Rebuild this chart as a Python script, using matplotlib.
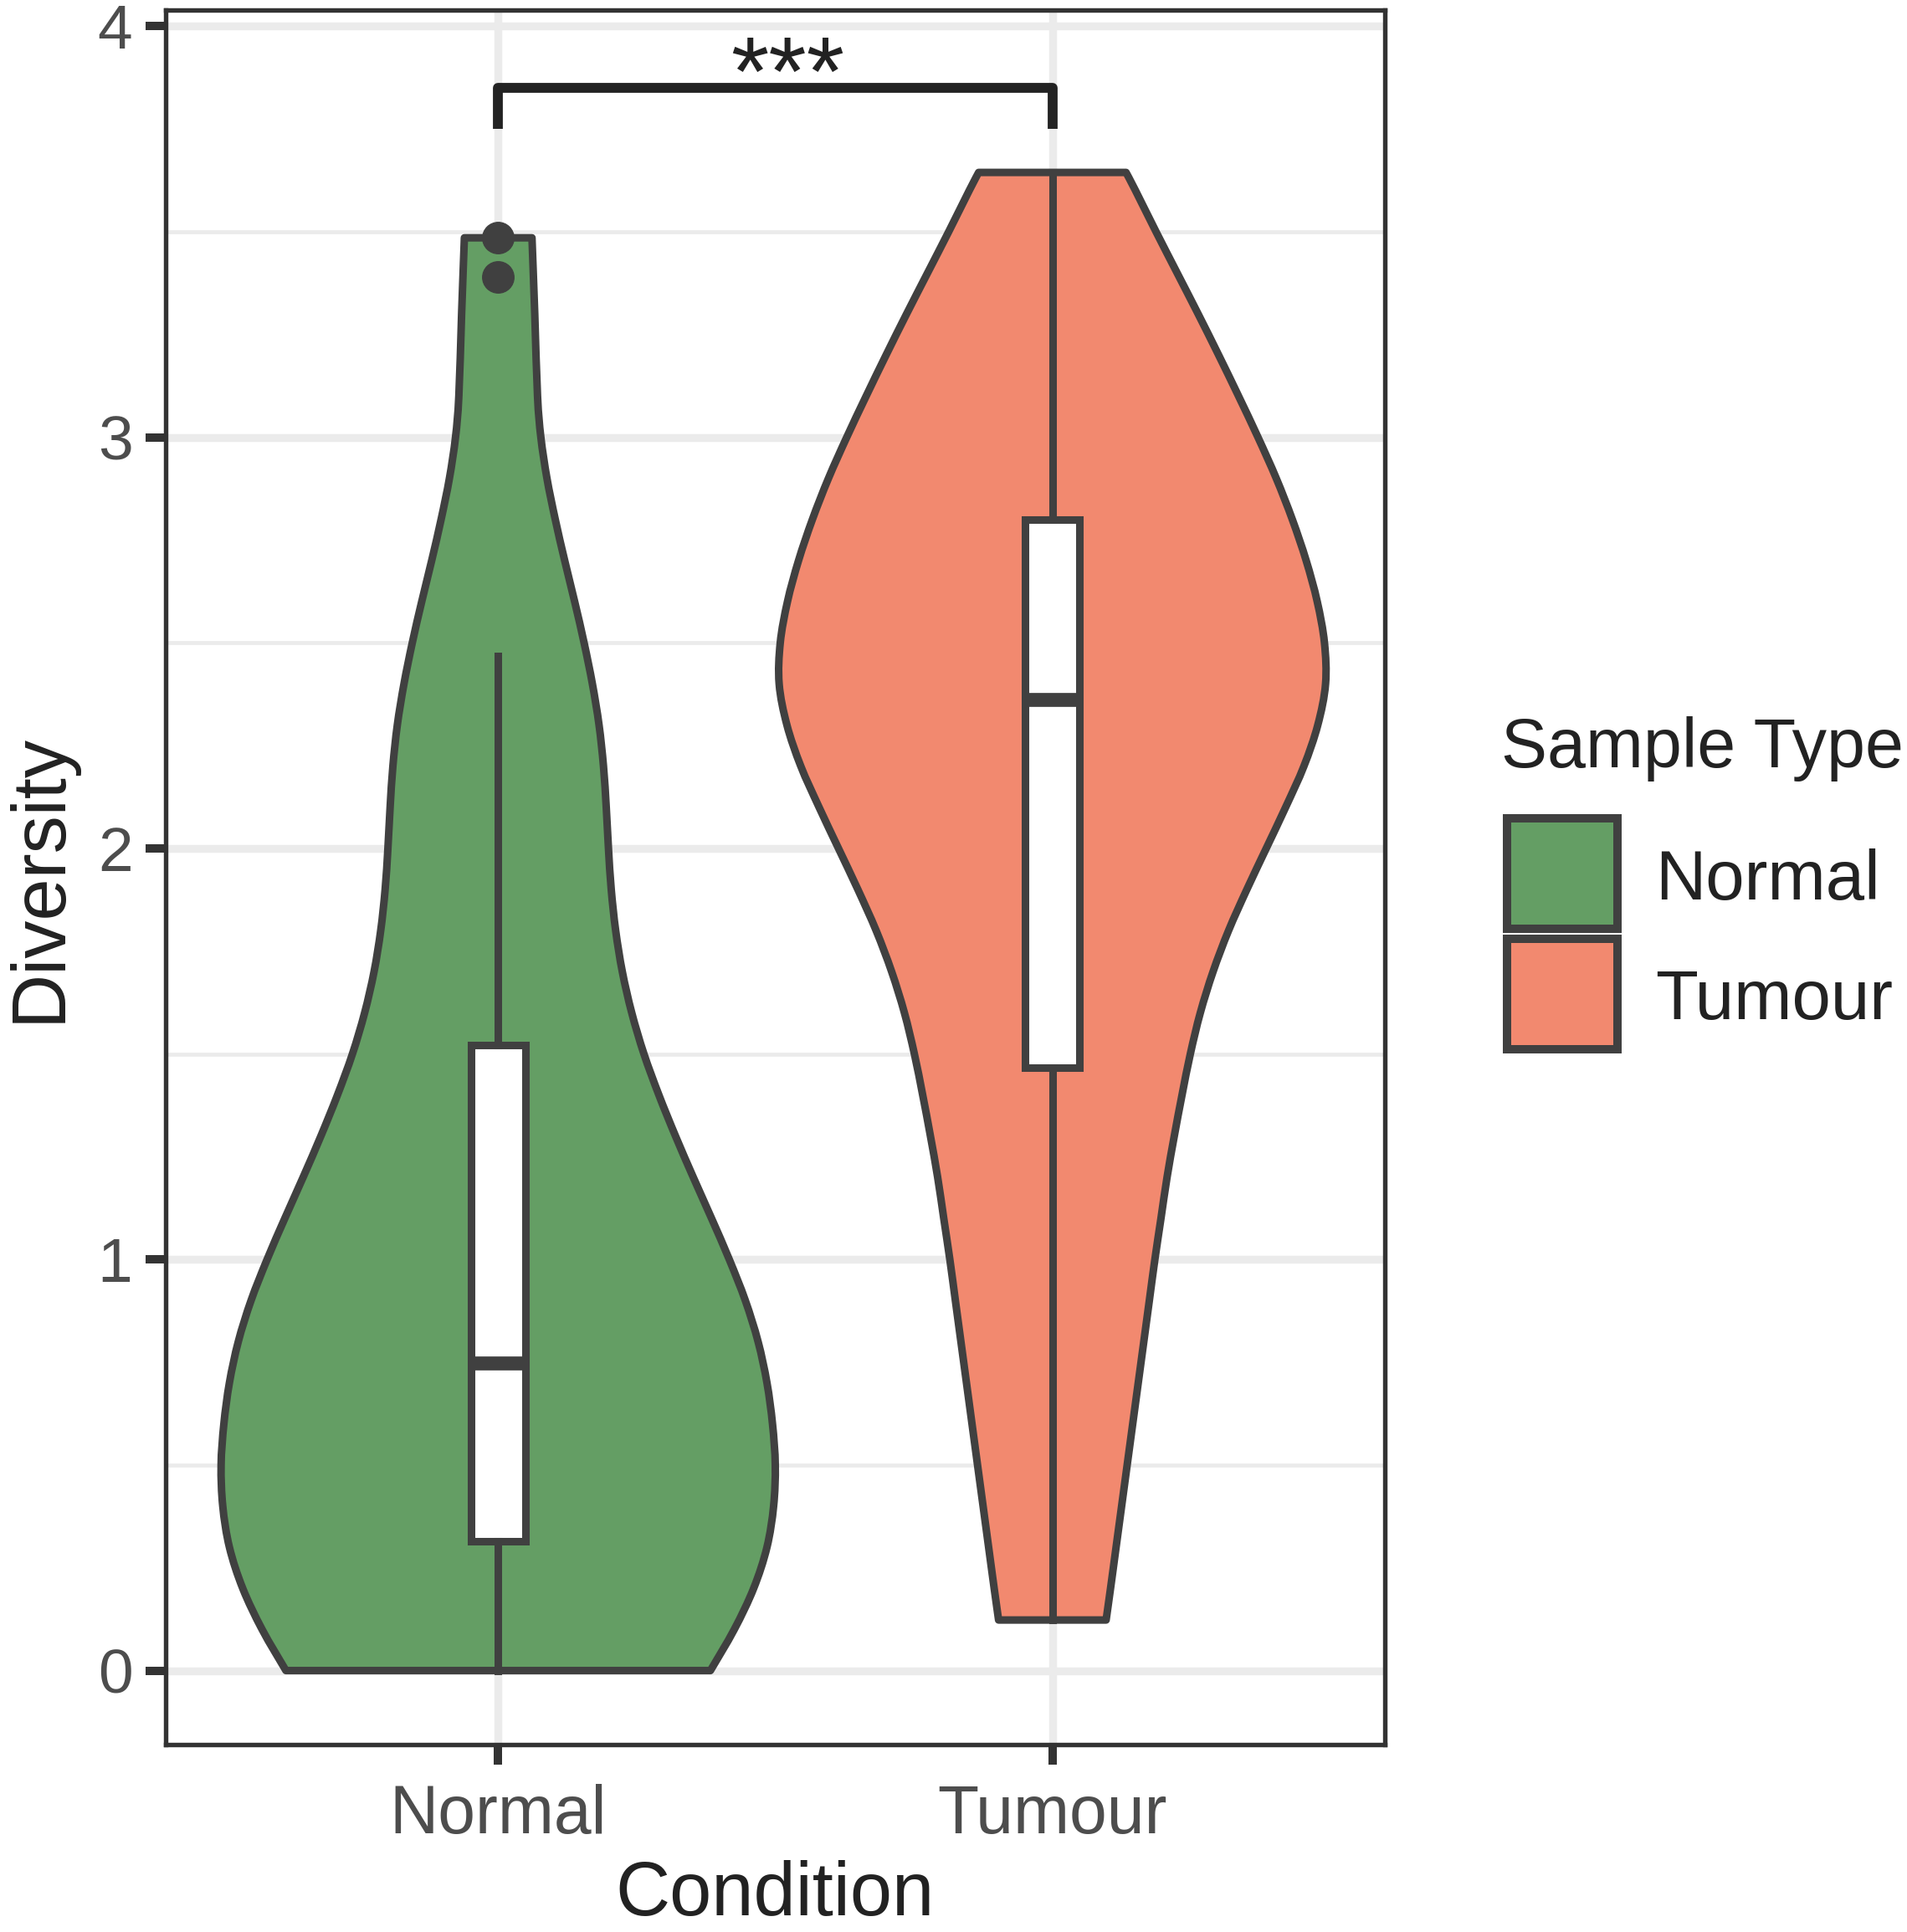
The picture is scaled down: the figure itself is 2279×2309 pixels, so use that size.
import matplotlib
matplotlib.use('Agg')
import matplotlib.pyplot as plt
from matplotlib.patches import Rectangle, PathPatch
from matplotlib.path import Path
import numpy as np

plt.rcParams['font.family'] = ['Liberation Sans', 'DejaVu Sans']

# データ
categories = ['Normal', 'Tumour']
fill_colors = ['#649E64', '#F2896F']
edge_color = '#404040'

# バイオリンの輪郭: 高さと半幅（x軸単位）
normal_y = [3.485, 3.3, 3.1, 3.0, 2.9, 2.8, 2.7, 2.6, 2.5, 2.4, 2.3, 2.2, 2.1, 2.0,
            1.9, 1.8, 1.7, 1.6, 1.5, 1.4, 1.3, 1.2, 1.1, 1.0, 0.9, 0.8, 0.7, 0.6,
            0.5, 0.4, 0.3, 0.2, 0.1, 0.0]
normal_w = [0.061, 0.066, 0.071, 0.077, 0.088, 0.103, 0.120, 0.138, 0.155, 0.170,
            0.182, 0.190, 0.195, 0.199, 0.204, 0.212, 0.224, 0.241, 0.263, 0.290,
            0.320, 0.352, 0.385, 0.417, 0.446, 0.469, 0.485, 0.495, 0.500, 0.497,
            0.485, 0.461, 0.426, 0.383]
tumour_y = [3.644, 3.6, 3.5, 3.4, 3.3, 3.2, 3.1, 3.0, 2.9, 2.8, 2.7, 2.6, 2.5, 2.4,
            2.3, 2.2, 2.1, 2.0, 1.9, 1.8, 1.7, 1.6, 1.5, 1.4, 1.3, 1.2, 1.1, 1.0,
            0.9, 0.8, 0.7, 0.6, 0.5, 0.4, 0.3, 0.2, 0.123]
tumour_w = [0.133, 0.150, 0.187, 0.225, 0.263, 0.300, 0.336, 0.371, 0.404, 0.433,
            0.458, 0.478, 0.491, 0.493, 0.479, 0.454, 0.421, 0.386, 0.351, 0.318,
            0.290, 0.267, 0.249, 0.234, 0.220, 0.207, 0.196, 0.185, 0.175, 0.165,
            0.155, 0.145, 0.135, 0.125, 0.115, 0.105, 0.097]

# 箱ひげ図の統計量
medians = [0.749, 2.362]
q1 = [0.314, 1.467]
q3 = [1.521, 2.800]
whisk_lo = [0.0, 0.123]
whisk_hi = [2.467, 3.644]
outliers = [[3.485, 3.389], []]

yticks = [0, 1, 2, 3, 4]
sig_label = '***'
sig_y = 3.85


def smooth_side(pts):
    # 読み取った点を通る滑らかな曲線（Catmull-Rom → ベジェ）
    pts = np.asarray(pts)
    verts, codes = [], []
    n = len(pts)
    for i in range(n - 1):
        p0 = pts[max(i - 1, 0)]
        p1 = pts[i]
        p2 = pts[i + 1]
        p3 = pts[min(i + 2, n - 1)]
        verts += [p1 + (p2 - p0) / 6, p2 - (p3 - p1) / 6, p2]
        codes += [Path.CURVE4] * 3
    return verts, codes


def violin_path(center, ys, ws):
    ys = np.asarray(ys)
    ws = np.asarray(ws)
    right = np.column_stack([center + ws, ys])
    left = np.column_stack([center - ws, ys])[::-1]
    verts = [right[0]]
    codes = [Path.MOVETO]
    v, c = smooth_side(right)
    verts += v
    codes += c
    verts.append(left[0])
    codes.append(Path.LINETO)
    v, c = smooth_side(left)
    verts += v
    codes += c
    verts.append(right[0])
    codes.append(Path.CLOSEPOLY)
    return Path(verts, codes)


# グラフ作成
W, H = 2279, 2309
fig = plt.figure(figsize=(W / 100, H / 100), dpi=100)
ax = fig.add_axes([198 / W, 1 - 2085 / H, 1457 / W, 2073 / H])

# バイオリン
for i, (ys, ws) in enumerate([(normal_y, normal_w), (tumour_y, tumour_w)]):
    patch = PathPatch(violin_path(i + 1, ys, ws), facecolor=fill_colors[i],
                      edgecolor=edge_color, lw=6.5, joinstyle='round', zorder=2)
    ax.add_patch(patch)

# 箱ひげ
stats = []
for i in range(len(categories)):
    stats.append(dict(med=medians[i], q1=q1[i], q3=q3[i], whislo=whisk_lo[i],
                      whishi=whisk_hi[i], fliers=outliers[i]))
ax.bxp(stats, positions=[1, 2], widths=0.098, patch_artist=True, showcaps=False,
       manage_ticks=False, zorder=3,
       boxprops=dict(facecolor='white', edgecolor=edge_color, lw=6.5),
       whiskerprops=dict(color=edge_color, lw=6.5),
       medianprops=dict(color=edge_color, lw=12, solid_capstyle='butt'),
       flierprops=dict(marker='o', markerfacecolor=edge_color,
                       markeredgecolor=edge_color, markersize=27))

# 有意差のブラケット
ax.plot([1, 1, 2, 2], [sig_y - 0.1, sig_y, sig_y, sig_y - 0.1], color='#222222',
        lw=8.5, solid_joinstyle='round', solid_capstyle='butt', zorder=4)
ax.text(1.522, sig_y - 0.042, sig_label, ha='center', va='baseline', fontsize=84,
        color='#222222')

# 軸
ax.set_xlim(0.4, 2.6)
ax.set_ylim(-0.18, 4.039)
ax.set_xticks([1, 2])
ax.set_xticklabels(categories)
ax.set_yticks(yticks)
ax.set_yticks([0.5, 1.5, 2.5, 3.5], minor=True)
ax.set_axisbelow(True)
ax.grid(which='major', color='#EBEBEB', lw=6.8)
ax.grid(which='minor', axis='y', color='#EBEBEB', lw=3.4)
ax.tick_params(which='major', length=17, width=7.2, color='#333333')
ax.tick_params(which='minor', length=0)
ax.tick_params(axis='y', labelsize=54, pad=11.5, labelcolor='#4D4D4D')
ax.tick_params(axis='x', labelsize=58, pad=17, labelcolor='#4D4D4D')
for sp in ax.spines.values():
    sp.set_color('#333333')
    sp.set_linewidth(3.9)

ax.set_xlabel('Condition', fontsize=65, color='#222222', va='baseline')
ax.xaxis.set_label_coords(0.5, -0.0985)
ax.set_ylabel('Diversity', fontsize=65, color='#222222', rotation=90,
              rotation_mode='anchor', ha='center', va='baseline')
ax.yaxis.set_label_coords(-0.0865, 0.4998)

# 凡例
fig.text(1794 / W, 1 - 917 / H, 'Sample Type', fontsize=59.5, va='baseline',
         color='#222222')
for i, cat in enumerate(categories):
    top = 978 + i * 144
    fig.add_artist(Rectangle((1801 / W, 1 - (top + 132) / H), 132 / W, 132 / H,
                             transform=fig.transFigure, facecolor=fill_colors[i],
                             edgecolor=edge_color, lw=7.2))
    fig.text(1978 / W, 1 - (1075 + i * 143) / H, cat, fontsize=60, va='baseline',
             color='#222222')

# 保存
plt.savefig('out.png', dpi=100)
